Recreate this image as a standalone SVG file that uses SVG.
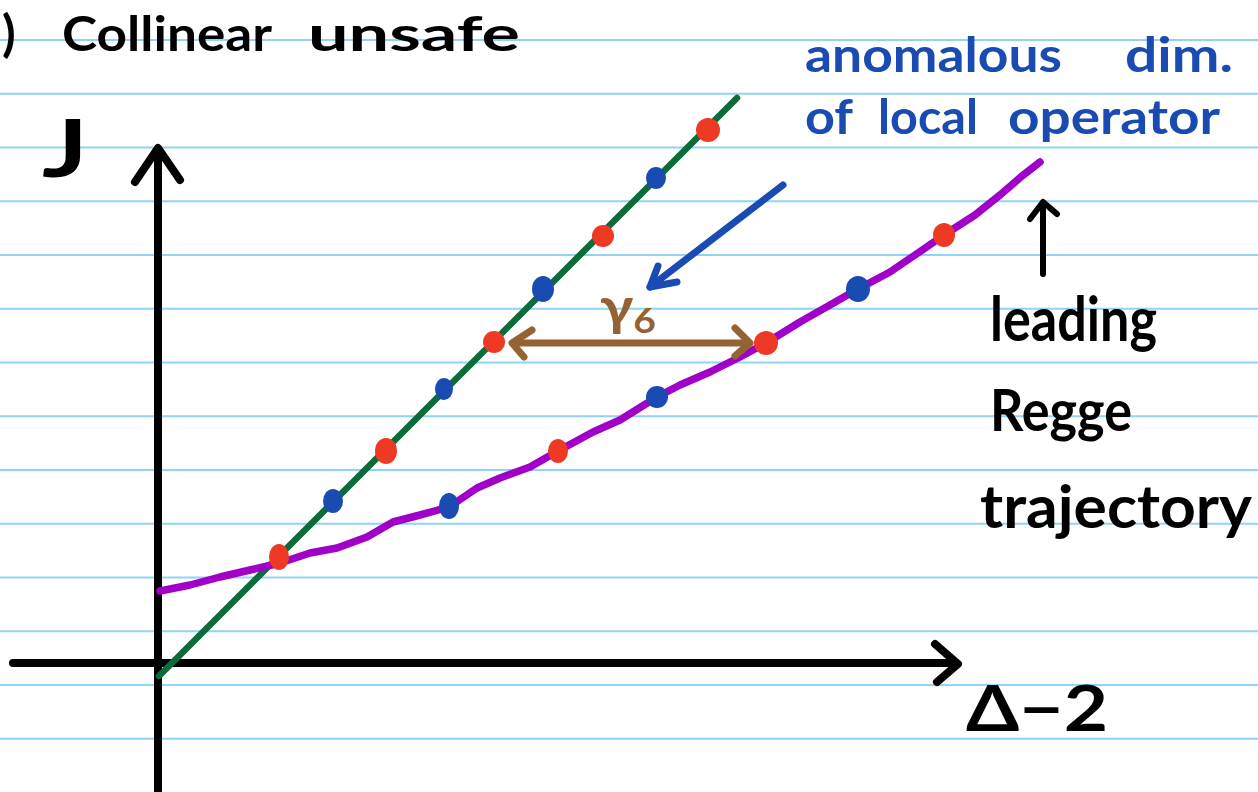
<svg xmlns="http://www.w3.org/2000/svg" width="1258" height="792" viewBox="0 0 1258 792">
<style>
.rule{stroke:#8fd3f5;stroke-width:2}
.ink{fill:none;stroke-linecap:round;stroke-linejoin:round}
.blk{stroke:#000;stroke-width:8}
.grn{stroke:#0b6b3a;stroke-width:6.5}
.pur{stroke:#a100c9;stroke-width:7.5}
.blu{stroke:#1a4bb3;stroke-width:7}
.brn{stroke:#946233;stroke-width:7}
.red{fill:#ee3a25}
.bdot{fill:#1a4bb3}
.hand{font-family:"Lato","Noto Sans","Liberation Sans",sans-serif;font-weight:700}
.tb{fill:#000}
.tblue{fill:#1a4bb3}
.tbrown{fill:#946233}
</style>
<rect width="1258" height="792" fill="#fff"/>
<g id="ruled-lines">
<line class="rule" x1="0" y1="40" x2="1258" y2="40"/>
<line class="rule" x1="0" y1="93.75" x2="1258" y2="93.75"/>
<line class="rule" x1="0" y1="147.5" x2="1258" y2="147.5"/>
<line class="rule" x1="0" y1="201.25" x2="1258" y2="201.25"/>
<line class="rule" x1="0" y1="255" x2="1258" y2="255"/>
<line class="rule" x1="0" y1="308.75" x2="1258" y2="308.75"/>
<line class="rule" x1="0" y1="362.5" x2="1258" y2="362.5"/>
<line class="rule" x1="0" y1="416.25" x2="1258" y2="416.25"/>
<line class="rule" x1="0" y1="470" x2="1258" y2="470"/>
<line class="rule" x1="0" y1="523.75" x2="1258" y2="523.75"/>
<line class="rule" x1="0" y1="577.5" x2="1258" y2="577.5"/>
<line class="rule" x1="0" y1="631.25" x2="1258" y2="631.25"/>
<line class="rule" x1="0" y1="685" x2="1258" y2="685"/>
<line class="rule" x1="0" y1="738.75" x2="1258" y2="738.75"/>
</g>
<g id="title">
<text class="hand tb" x="2" y="51" font-size="50">)</text>
<text class="hand tb" x="62" y="51" font-size="48" textLength="210" lengthAdjust="spacingAndGlyphs">Collinear</text>
<text class="hand tb" x="308" y="51" font-size="48" textLength="212" lengthAdjust="spacingAndGlyphs">unsafe</text>
</g>
<g id="axes">
<line class="ink blk" x1="158" y1="150" x2="158" y2="792"/>
<polyline class="ink blk" points="135,182 158,148 180,180"/>
<line class="ink blk" x1="13" y1="663" x2="955" y2="663"/>
<polyline class="ink blk" points="935,644 958,664 937,682"/>
<text class="hand tb" x="42" y="177" font-size="80" textLength="46" lengthAdjust="spacingAndGlyphs">J</text>
<text class="hand tb" x="966" y="731" font-size="64" textLength="142" lengthAdjust="spacingAndGlyphs">Δ−2</text>
</g>
<g id="connectors">
<line id="collinear-line" class="ink grn" x1="159" y1="676" x2="737" y2="98"/>
<polyline id="regge-trajectory" class="ink pur" points="160,591 190,585 220,577 250,570 280,563 310,553 337,548 367,537 393,522 420,515 449,507 477,488 500,478 530,467 558,451 593,432 620,420 657,397 680,385 710,372 740,357 766,343 800,322 830,305 858,289 890,272 915,255 944,235 975,215 1000,195 1022,176 1040,162"/>
<g id="anomalous-arrow">
<line class="ink blu" x1="783" y1="185" x2="650" y2="287"/>
<polyline class="ink blu" points="658,266 650,287 677,282"/>
</g>
<g id="gamma-arrow">
<line class="ink brn" x1="513" y1="343" x2="749" y2="343"/>
<polyline class="ink brn" points="532,330 512,343 524,357"/>
<polyline class="ink brn" points="735,328 750,343 735,356"/>
</g>
<g id="leading-arrow">
<line class="ink" stroke="#000" stroke-width="6" x1="1043" y1="274" x2="1043" y2="203"/>
<polyline class="ink" stroke="#000" stroke-width="6" points="1030,219 1043,202 1057,214"/>
</g>
</g>
<g id="dots">
<ellipse class="red" cx="708" cy="130" rx="12" ry="12"/>
<ellipse class="bdot" cx="656" cy="178" rx="10" ry="11"/>
<ellipse class="red" cx="603" cy="236" rx="11" ry="11"/>
<ellipse class="bdot" cx="543" cy="289" rx="11" ry="13"/>
<ellipse class="red" cx="494" cy="342" rx="11" ry="11"/>
<ellipse class="bdot" cx="444" cy="389" rx="9" ry="11"/>
<ellipse class="red" cx="386" cy="451" rx="11" ry="13"/>
<ellipse class="bdot" cx="333" cy="501" rx="10" ry="12"/>
<ellipse class="red" cx="279" cy="557" rx="10" ry="13"/>
<ellipse class="bdot" cx="449" cy="506" rx="10" ry="13"/>
<ellipse class="red" cx="558" cy="451" rx="10" ry="12"/>
<ellipse class="bdot" cx="657" cy="397" rx="11" ry="11"/>
<ellipse class="red" cx="766" cy="343" rx="12" ry="12"/>
<ellipse class="bdot" cx="858" cy="289" rx="12" ry="13"/>
<ellipse class="red" cx="944" cy="235" rx="11" ry="12"/>
</g>
<g id="labels">
<text class="hand tbrown" x="600" y="325" font-size="52" textLength="56" lengthAdjust="spacingAndGlyphs">γ<tspan font-size="34" dy="8">6</tspan></text>
<text class="hand tblue" x="805" y="72" font-size="48" textLength="257" lengthAdjust="spacingAndGlyphs">anomalous</text>
<text class="hand tblue" x="1125" y="72" font-size="48" textLength="108" lengthAdjust="spacingAndGlyphs">dim.</text>
<text class="hand tblue" x="805" y="134" font-size="48" textLength="48" lengthAdjust="spacingAndGlyphs">of</text>
<text class="hand tblue" x="878" y="134" font-size="48" textLength="100" lengthAdjust="spacingAndGlyphs">local</text>
<text class="hand tblue" x="1008" y="134" font-size="48" textLength="212" lengthAdjust="spacingAndGlyphs">operator</text>
<text class="hand tb" x="990" y="341" font-size="62" textLength="167" lengthAdjust="spacingAndGlyphs">leading</text>
<text class="hand tb" x="990" y="431" font-size="58" textLength="142" lengthAdjust="spacingAndGlyphs">Regge</text>
<text class="hand tb" x="980" y="528" font-size="60" textLength="272" lengthAdjust="spacingAndGlyphs">trajectory</text>
</g>
</svg>
